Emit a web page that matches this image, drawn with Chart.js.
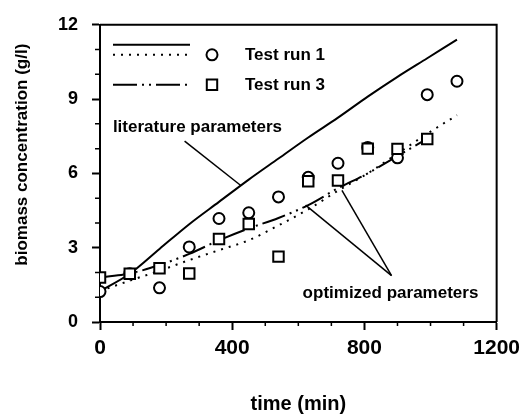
<!DOCTYPE html>
<html>
<head>
<meta charset="utf-8">
<title>Biomass concentration</title>
<script src="https://cdn.jsdelivr.net/npm/chart.js@4"></script>
<style>
  html, body { margin: 0; padding: 0; background: #fff; }
</style>
</head>
<body>
<canvas id="myChart" width="526" height="414"></canvas>
<script>
// measured values (time in min, biomass in g/l)
const times = [0, 90, 180, 270, 360, 450, 540, 630, 720, 810, 900, 990, 1080];
const run1 = [1.23, 1.95, 1.38, 3.03, 4.18, 4.41, 5.05, 5.84, 6.41, 7.05, 6.63, 9.18, 9.72];
const run3 = [1.80, 1.95, 2.17, 1.96, 3.35, 3.96, 2.64, 5.68, 5.71, 7.00, 6.99, 7.39];

// simulated curves
const literatureFit = [1.25, 1.95, 2.95, 3.95, 4.85, 5.75, 6.6, 7.45, 8.25, 9.1, 9.9, 10.65, 11.4];
const optimizedRun1 = [1.25, 1.67, 2.07, 2.5, 2.9, 3.3, 3.9, 4.55, 5.3, 6.0, 6.8, 7.6, 8.35];
const optimizedRun3 = [1.8, 1.96, 2.3, 2.75, 3.3, 3.78, 4.2, 4.72, 5.4, 6.0, 6.7, 7.4];

// pointer lines for the labels, [x, y] pairs
const literaturePointer = [[256, 7.30], [426, 5.51]];
const optimizedPointerA = [[622, 4.72], [882, 1.87]];
const optimizedPointerB = [[732, 5.31], [882, 1.87]];

const xTicks = [0, 400, 800, 1200];
const yTicks = [0, 3, 6, 9, 12];

const FONT = "'Liberation Sans', Arial, Helvetica, sans-serif";
const dashDot = [24, 5, 2, 5, 2, 5];
const dotted = [2, 6];

const xy = (xs, ys) => ys.map((y, i) => ({x: xs[i], y: y}));
const seg = pts => pts.map(p => ({x: p[0], y: p[1]}));

// box, minor ticks, legend and text labels
const extras = {
    id: 'extras',
    afterDraw(chart) {
        const ctx = chart.ctx;
        const a = chart.chartArea;
        const xs = chart.scales.x, ys = chart.scales.y;
        ctx.save();
        ctx.strokeStyle = '#000';
        ctx.fillStyle = '#000';

        // top and right frame
        ctx.lineWidth = 2;
        ctx.beginPath();
        ctx.moveTo(a.left, a.top);
        ctx.lineTo(a.right, a.top);
        ctx.lineTo(a.right, a.bottom);
        ctx.stroke();

        // minor ticks
        ctx.lineWidth = 1.5;
        ctx.beginPath();
        for (let v = 1; v < 12; v++) {
            if (v % 3 === 0) continue;
            const py = ys.getPixelForValue(v);
            ctx.moveTo(a.left - 5, py);
            ctx.lineTo(a.left, py);
        }
        for (let v = 100; v < 1200; v += 100) {
            if (v % 400 === 0) continue;
            const px = xs.getPixelForValue(v);
            ctx.moveTo(px, a.bottom);
            ctx.lineTo(px, a.bottom + 4);
        }
        ctx.stroke();

        // legend
        const lx0 = a.left + 13, lx1 = a.left + 90;
        const mx = a.left + 112, tx = a.left + 145;
        ctx.lineWidth = 2;
        const legLine = (y, dash) => {
            ctx.setLineDash(dash);
            ctx.beginPath();
            ctx.moveTo(lx0, y);
            ctx.lineTo(lx1, y);
            ctx.stroke();
        };
        legLine(a.top + 20, []);
        legLine(a.top + 30, dotted);
        legLine(a.top + 60, dashDot);
        ctx.setLineDash([]);
        ctx.fillStyle = '#fff';
        ctx.beginPath();
        ctx.arc(mx, a.top + 30, 5.5, 0, Math.PI * 2);
        ctx.fill();
        ctx.stroke();
        ctx.beginPath();
        ctx.rect(mx - 5.2, a.top + 60 - 5.2, 10.4, 10.4);
        ctx.fill();
        ctx.stroke();

        ctx.fillStyle = '#000';
        ctx.font = 'bold 17px ' + FONT;
        ctx.textBaseline = 'middle';
        ctx.textAlign = 'left';
        ctx.fillText(chart.data.datasets[1].label, tx, a.top + 31);
        ctx.fillText(chart.data.datasets[0].label, tx, a.top + 61);

        // curve labels
        ctx.fillText('literature parameters', xs.getPixelForValue(39), ys.getPixelForValue(7.85));
        ctx.fillText('optimized parameters', xs.getPixelForValue(613), ys.getPixelForValue(1.16));
        ctx.restore();
    }
};

const ctx = document.getElementById('myChart').getContext('2d');
const chart = new Chart(ctx, {
    type: 'scatter',
    data: {
        datasets: [{
            label: 'Test run 3',
            data: xy(times, run3),
            showLine: false,
            pointStyle: 'rect',
            pointRadius: 7.4,
            pointBorderWidth: 2,
            borderColor: '#000',
            backgroundColor: '#fff',
            order: 0
        }, {
            label: 'Test run 1',
            data: xy(times, run1),
            showLine: false,
            pointStyle: 'circle',
            pointRadius: 5.5,
            pointBorderWidth: 2,
            borderColor: '#000',
            backgroundColor: '#fff',
            order: 1
        }, {
            label: 'literature parameters',
            data: xy(times, literatureFit),
            showLine: true,
            pointRadius: 0,
            borderWidth: 2,
            borderColor: '#000',
            cubicInterpolationMode: 'monotone',
            order: 2
        }, {
            label: 'optimized parameters, run 1',
            data: xy(times, optimizedRun1),
            showLine: true,
            pointRadius: 0,
            borderWidth: 2,
            borderColor: '#000',
            borderDash: dotted,
            cubicInterpolationMode: 'monotone',
            order: 2
        }, {
            label: 'optimized parameters, run 3',
            data: xy(times, optimizedRun3),
            showLine: true,
            pointRadius: 0,
            borderWidth: 2,
            borderColor: '#000',
            borderDash: dashDot,
            cubicInterpolationMode: 'monotone',
            order: 2
        }, {
            label: 'pointer',
            data: seg(literaturePointer),
            showLine: true, pointRadius: 0, borderWidth: 1.5, borderColor: '#000', order: 3
        }, {
            label: 'pointer',
            data: seg(optimizedPointerA),
            showLine: true, pointRadius: 0, borderWidth: 1.5, borderColor: '#000', order: 3
        }, {
            label: 'pointer',
            data: seg(optimizedPointerB),
            showLine: true, pointRadius: 0, borderWidth: 1.5, borderColor: '#000', order: 3
        }]
    },
    options: {
        responsive: false,
        animation: false,
        devicePixelRatio: 1,
        layout: { padding: { left: 0, top: 21, right: 27, bottom: 0 } },
        plugins: {
            legend: { display: false },
            tooltip: { enabled: false }
        },
        scales: {
            x: {
                type: 'linear',
                min: 0,
                max: 1200,
                afterBuildTicks: s => { s.ticks = xTicks.map(v => ({value: v})); },
                afterFit: s => { s.height = 92; },
                grid: { drawOnChartArea: false, tickLength: 8, tickWidth: 2, tickColor: '#000' },
                border: { color: '#000', width: 2 },
                ticks: {
                    color: '#000',
                    padding: 6,
                    maxRotation: 0,
                    callback: v => String(v),
                    font: { family: FONT, size: 21, weight: 'bold' }
                },
                title: {
                    display: true,
                    text: 'time (min)',
                    color: '#000',
                    padding: 0,
                    font: { family: FONT, size: 20, weight: 'bold', lineHeight: 1 }
                }
            },
            y: {
                type: 'linear',
                min: 0,
                max: 12,
                afterBuildTicks: s => { s.ticks = yTicks.map(v => ({value: v})); },
                afterFit: s => { s.width = 100; },
                grid: { drawOnChartArea: false, tickLength: 8, tickWidth: 2, tickColor: '#000' },
                border: { color: '#000', width: 2 },
                ticks: {
                    color: '#000',
                    padding: 14,
                    callback: v => String(v),
                    font: { family: FONT, size: 18, weight: 'bold' }
                },
                title: {
                    display: true,
                    text: 'biomass concentration (g/l)    ',
                    align: 'end',
                    color: '#000',
                    padding: { top: 14 },
                    font: { family: FONT, size: 17, weight: 'bold', lineHeight: 1 }
                }
            }
        }
    },
    plugins: [extras]
});
</script>
</body>
</html>
